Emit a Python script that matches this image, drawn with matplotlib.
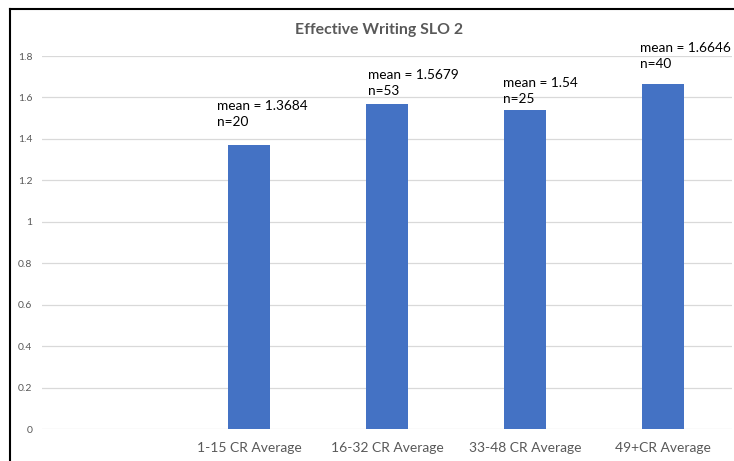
import matplotlib.pyplot as plt
from matplotlib.lines import Line2D

categories = ["", "1-15 CR Average", "16-32 CR Average", "33-48 CR Average", "49+CR Average"]
means = [None, 1.3684, 1.5679, 1.54, 1.6646]
counts = [None, 20, 53, 25, 40]
# label offsets in pixels (text top-left relative to bar top-left)
label_offsets = [None, (-11, 45), (2, 35), (-1, 33), (-2, 42)]

plt.rcParams['font.family'] = ['Lato', 'DejaVu Sans']

fig = plt.figure(figsize=(7.34, 4.61), dpi=100)
ax = fig.add_axes([42 / 734, 1 - 429 / 461, 690 / 734, 373 / 461])

bar_w = 0.305
xs = [i for i, m in enumerate(means) if m is not None]
vals = [m for m in means if m is not None]
ax.bar(xs, vals, width=bar_w, color='#4472C4', zorder=3)

for x, m, n, off in zip(xs, vals, [c for c in counts if c is not None],
                        [o for o in label_offsets if o is not None]):
    ax.annotate(f"mean = {m:g}\nn={n}", xy=(x - bar_w / 2, m),
                xytext=(off[0] * 0.72, off[1] * 0.72), textcoords='offset points',
                ha='left', va='top', fontsize=9.8, color='black', linespacing=1.4)

ax.set_xlim(-0.5, 4.5)
ax.set_ylim(0, 1.8)
ax.set_yticks([0, 0.2, 0.4, 0.6, 0.8, 1, 1.2, 1.4, 1.6, 1.8])
ax.set_yticklabels(["0", "0.2", "0.4", "0.6", "0.8", "1", "1.2", "1.4", "1.6", "1.8"])
ax.set_xticks(range(len(categories)))
ax.set_xticklabels(categories)
ax.tick_params(axis='y', length=0, pad=7, labelsize=7.5, labelcolor='#595959')
ax.tick_params(axis='x', length=0, pad=9, labelsize=10, labelcolor='#595959')
ax.grid(axis='y', color='#d9d9d9', linewidth=0.9, zorder=0)
for s in ax.spines.values():
    s.set_visible(False)

fig.text(379 / 734, 1 - 30 / 461, "Effective Writing SLO 2", ha='center', va='center',
         fontsize=11.4, fontweight='bold', color='#595959')

# outer frame (left and top edges visible)
fig.add_artist(Line2D([9.5 / 734, 9.5 / 734], [0, 1 - 9.5 / 461], color='black', lw=1.5))
fig.add_artist(Line2D([9.5 / 734, 1], [1 - 9.5 / 461, 1 - 9.5 / 461], color='black', lw=1.5))

fig.savefig("out.png", dpi=100)
